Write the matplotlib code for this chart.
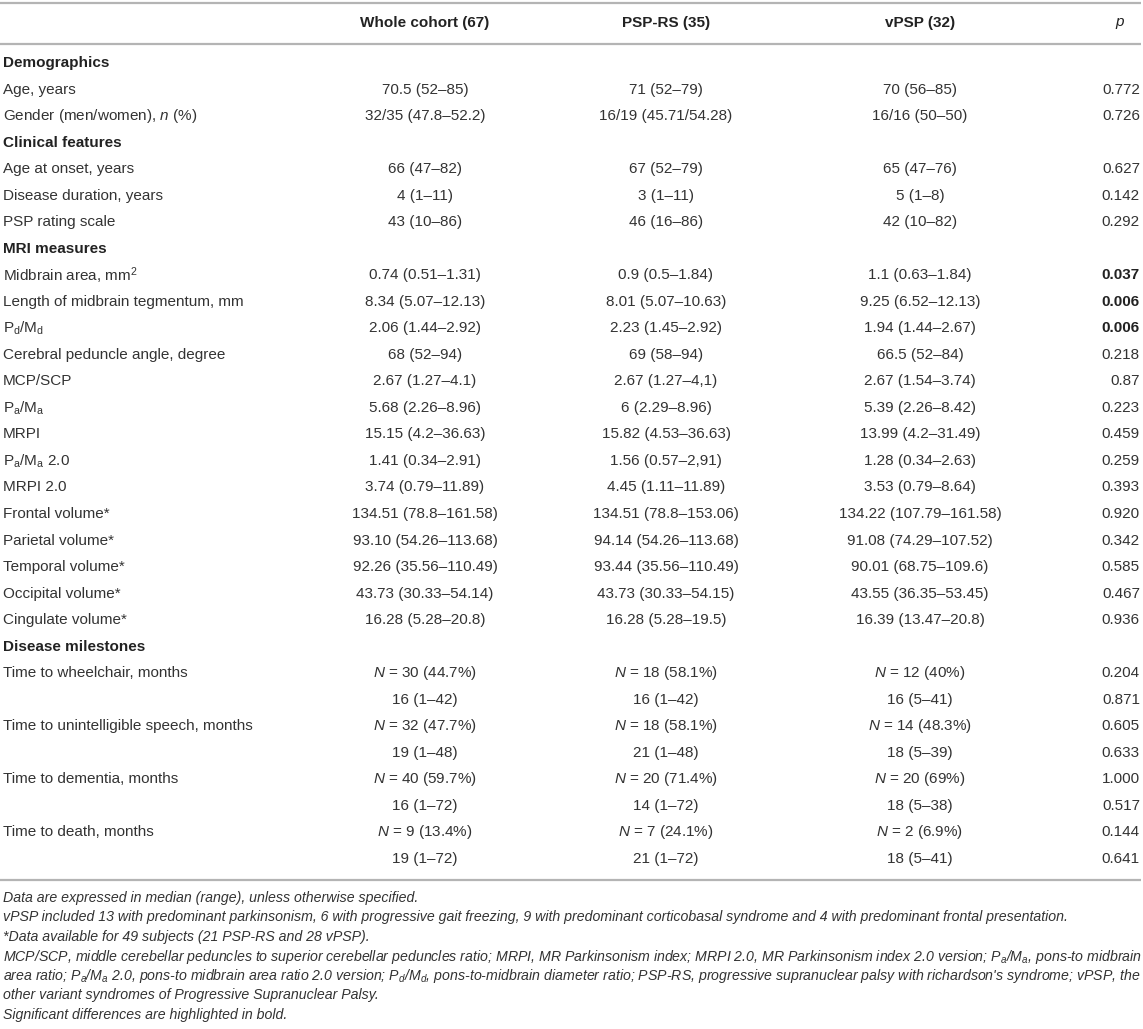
import matplotlib
matplotlib.use("Agg")
import matplotlib.pyplot as plt

plt.rcParams['font.family'] = ['Liberation Sans', 'DejaVu Sans']
plt.rcParams['mathtext.fontset'] = 'custom'
plt.rcParams['mathtext.rm'] = 'Liberation Sans'
plt.rcParams['mathtext.it'] = 'Liberation Sans:italic'
plt.rcParams['mathtext.bf'] = 'Liberation Sans:bold'

# ---------------- data ----------------
col_headers = ["Whole cohort (67)", "PSP-RS (35)", "vPSP (32)", r"$\mathbf{\mathit{p}}$"]

row_labels = [
    "Demographics",
    "Age, years",
    r"Gender (men/women), $\mathit{n}$ (%)",
    "Clinical features",
    "Age at onset, years",
    "Disease duration, years",
    "PSP rating scale",
    "MRI measures",
    r"Midbrain area, mm$^{2}$",
    "Length of midbrain tegmentum, mm",
    r"P$_{\mathrm{d}}$/M$_{\mathrm{d}}$",
    "Cerebral peduncle angle, degree",
    "MCP/SCP",
    r"P$_{\mathrm{a}}$/M$_{\mathrm{a}}$",
    "MRPI",
    r"P$_{\mathrm{a}}$/M$_{\mathrm{a}}$ 2.0",
    "MRPI 2.0",
    "Frontal volume*",
    "Parietal volume*",
    "Temporal volume*",
    "Occipital volume*",
    "Cingulate volume*",
    "Disease milestones",
    "Time to wheelchair, months",
    "",
    "Time to unintelligible speech, months",
    "",
    "Time to dementia, months",
    "",
    "Time to death, months",
    "",
]

section_rows = ["Demographics", "Clinical features", "MRI measures", "Disease milestones"]

N = r"$\mathit{N}$"
whole = [
    None, "70.5 (52–85)", "32/35 (47.8–52.2)",
    None, "66 (47–82)", "4 (1–11)", "43 (10–86)",
    None, "0.74 (0.51–1.31)", "8.34 (5.07–12.13)", "2.06 (1.44–2.92)", "68 (52–94)",
    "2.67 (1.27–4.1)", "5.68 (2.26–8.96)", "15.15 (4.2–36.63)", "1.41 (0.34–2.91)",
    "3.74 (0.79–11.89)", "134.51 (78.8–161.58)", "93.10 (54.26–113.68)",
    "92.26 (35.56–110.49)", "43.73 (30.33–54.14)", "16.28 (5.28–20.8)",
    None, N + " = 30 (44.7%)", "16 (1–42)", N + " = 32 (47.7%)", "19 (1–48)",
    N + " = 40 (59.7%)", "16 (1–72)", N + " = 9 (13.4%)", "19 (1–72)",
]
psp_rs = [
    None, "71 (52–79)", "16/19 (45.71/54.28)",
    None, "67 (52–79)", "3 (1–11)", "46 (16–86)",
    None, "0.9 (0.5–1.84)", "8.01 (5.07–10.63)", "2.23 (1.45–2.92)", "69 (58–94)",
    "2.67 (1.27–4,1)", "6 (2.29–8.96)", "15.82 (4.53–36.63)", "1.56 (0.57–2,91)",
    "4.45 (1.11–11.89)", "134.51 (78.8–153.06)", "94.14 (54.26–113.68)",
    "93.44 (35.56–110.49)", "43.73 (30.33–54.15)", "16.28 (5.28–19.5)",
    None, N + " = 18 (58.1%)", "16 (1–42)", N + " = 18 (58.1%)", "21 (1–48)",
    N + " = 20 (71.4%)", "14 (1–72)", N + " = 7 (24.1%)", "21 (1–72)",
]
vpsp = [
    None, "70 (56–85)", "16/16 (50–50)",
    None, "65 (47–76)", "5 (1–8)", "42 (10–82)",
    None, "1.1 (0.63–1.84)", "9.25 (6.52–12.13)", "1.94 (1.44–2.67)", "66.5 (52–84)",
    "2.67 (1.54–3.74)", "5.39 (2.26–8.42)", "13.99 (4.2–31.49)", "1.28 (0.34–2.63)",
    "3.53 (0.79–8.64)", "134.22 (107.79–161.58)", "91.08 (74.29–107.52)",
    "90.01 (68.75–109.6)", "43.55 (36.35–53.45)", "16.39 (13.47–20.8)",
    None, N + " = 12 (40%)", "16 (5–41)", N + " = 14 (48.3%)", "18 (5–39)",
    N + " = 20 (69%)", "18 (5–38)", N + " = 2 (6.9%)", "18 (5–41)",
]
p_values = [
    None, "0.772", "0.726",
    None, "0.627", "0.142", "0.292",
    None, "0.037", "0.006", "0.006", "0.218",
    "0.87", "0.223", "0.459", "0.259",
    "0.393", "0.920", "0.342",
    "0.585", "0.467", "0.936",
    None, "0.204", "0.871", "0.605", "0.633",
    "1.000", "0.517", "0.144", "0.641",
]

footnotes = [
    "Data are expressed in median (range), unless otherwise specified.",
    "vPSP included 13 with predominant parkinsonism, 6 with progressive gait freezing, 9 with predominant corticobasal syndrome and 4 with predominant frontal presentation.",
    "*Data available for 49 subjects (21 PSP-RS and 28 vPSP).",
    r"MCP/SCP, middle cerebellar peduncles to superior cerebellar peduncles ratio; MRPI, MR Parkinsonism index; MRPI 2.0, MR Parkinsonism index 2.0 version; P$_a$/M$_a$, pons-to midbrain",
    r"area ratio; P$_a$/M$_a$ 2.0, pons-to midbrain area ratio 2.0 version; P$_d$/M$_d$, pons-to-midbrain diameter ratio; PSP-RS, progressive supranuclear palsy with richardson's syndrome; vPSP, the",
    "other variant syndromes of Progressive Supranuclear Palsy.",
    "Significant differences are highlighted in bold.",
]

# ---------------- layout ----------------
W, H = 1143, 1029
fig = plt.figure(figsize=(W / 100, H / 100), dpi=100)
ax = fig.add_axes([0, 0, 1, 1])
ax.set_xlim(0, W)
ax.set_ylim(H, 0)
ax.axis('off')

txt = '#333333'
hdr = '#222222'
rule = '#b4b4b4'
fs = 11.0
col_x = [425, 666, 920, 1140]
col_ha = ['center', 'center', 'center', 'right']

for yr in (3, 43.5, 880):
    ax.plot([0, 1141], [yr, yr], color=rule, lw=1.6, solid_capstyle='butt')

hdr_x = [425, 666, 920, 1120]
for x, h in zip(hdr_x, col_headers):
    ax.text(x, 23.5, h, ha='center', va='center', fontsize=fs, fontweight='bold', color=hdr)

y0, dy = 63, 26.53
for i, lab in enumerate(row_labels):
    y = y0 + i * dy
    if lab in section_rows:
        ax.text(3, y, lab, ha='left', va='center', fontsize=fs, fontweight='bold', color=hdr)
        continue
    if lab:
        ax.text(3, y, lab, ha='left', va='center', fontsize=fs, color=txt)
    for x, ha, vals in zip(col_x[:3], col_ha[:3], [whole, psp_rs, vpsp]):
        ax.text(x, y, vals[i], ha=ha, va='center', fontsize=fs, color=txt)
    pv = p_values[i]
    bold = float(pv) < 0.05
    ax.text(col_x[3], y, pv, ha='right', va='center', fontsize=fs,
            color=hdr if bold else txt, fontweight='bold' if bold else 'normal')

fy0, fdy = 898, 19.5
for j, line in enumerate(footnotes):
    ax.text(3, fy0 + j * fdy, line, ha='left', va='center', fontsize=10.2,
            style='italic', color=txt)

fig.savefig('out.png', dpi=100)
